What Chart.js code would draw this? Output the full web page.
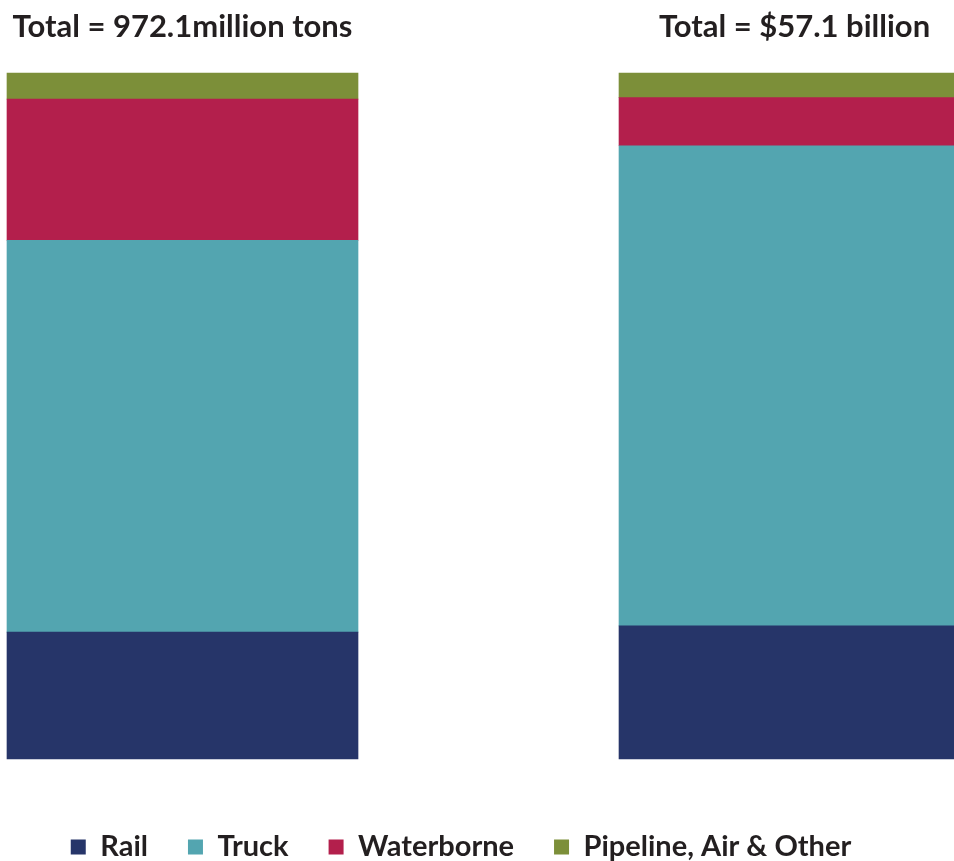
<!DOCTYPE html>
<html lang="en">
<head>
    <meta charset="utf-8">
    <title>Freight mode share</title>
    <script src="https://cdn.jsdelivr.net/npm/chart.js@4.4.1/dist/chart.umd.min.js"></script>
    <style>
        html, body { margin: 0; padding: 0; background: #fff; overflow: hidden; }
        #wrap { position: relative; width: 954px; height: 861px; }
    </style>
</head>
<body>
<div id="wrap"><canvas id="chart" width="954" height="861"></canvas></div>
<script>
// bar positions (0 = tonnage, 1 = value) and titles above each bar
const positions = [0, 1];
const titles = ['Total = 972.1million tons', 'Total = $57.1 billion'];

// share of total, percent
const rail = [18.5, 19.4];
const truck = [57.1, 70.0];
const waterborne = [20.6, 7.0];
const pipeline = [3.8, 3.6];

const FONT = 'Lato, "DejaVu Sans", sans-serif';
const TEXT = '#231f20';

function points(values) {
    return values.map((v, i) => ({ x: positions[i], y: v }));
}

// draws the "Total = ..." caption centred over each bar
const barTitles = {
    id: 'barTitles',
    afterDraw(chart) {
        const ctx = chart.ctx;
        const bars = chart.getDatasetMeta(0).data;
        ctx.save();
        ctx.fillStyle = TEXT;
        ctx.font = 'bold 31px ' + FONT;
        ctx.textAlign = 'center';
        ctx.textBaseline = 'middle';
        bars.forEach((bar, i) => {
            ctx.fillText(titles[i], bar.x, 27);
        });
        ctx.restore();
    }
};

const series = [
    { label: 'Rail', data: points(rail), color: '#263569' },
    { label: 'Truck', data: points(truck), color: '#53a5b0' },
    { label: 'Waterborne', data: points(waterborne), color: '#b31f4c' },
    { label: 'Pipeline, Air & Other', data: points(pipeline), color: '#7c8f39' }
];

new Chart(document.getElementById('chart'), {
    type: 'bar',
    data: {
        datasets: series.map(s => ({
            label: s.label,
            data: s.data,
            backgroundColor: s.color,
            borderWidth: 0,
            barThickness: 351,
            clip: false
        }))
    },
    options: {
        responsive: false,
        animation: false,
        layout: { padding: { top: 73, right: 32, left: 0, bottom: -10.5 } },
        scales: {
            x: {
                type: 'linear',
                stacked: true,
                offset: false,
                min: -0.2982,
                max: 1.2083,
                display: false
            },
            y: {
                stacked: true,
                min: 0,
                max: 100,
                display: false
            }
        },
        plugins: {
            tooltip: { enabled: false },
            legend: {
                position: 'bottom',
                // empty title only used as a spacer above the legend row
                title: { display: true, text: '', font: { size: 10 }, padding: { top: 21.5, bottom: 0 } },
                labels: {
                    boxWidth: 15,
                    boxHeight: 15,
                    padding: 40,
                    color: TEXT,
                    font: { family: FONT, size: 29, weight: 'bold' }
                }
            }
        }
    },
    plugins: [barTitles]
});
</script>
</body>
</html>
